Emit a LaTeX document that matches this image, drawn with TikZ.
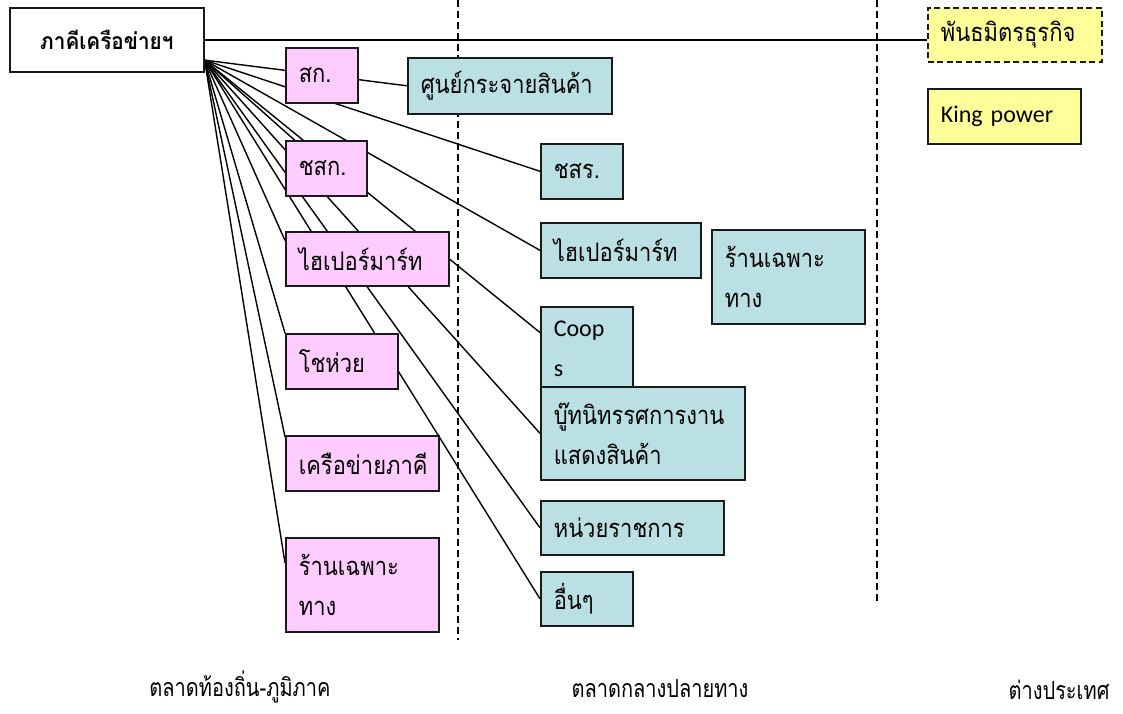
\documentclass[tikz,border=0pt]{standalone}
\usepackage{fontspec}
\newfontfamily\thai[Script=Thai,FakeStretch=0.86]{Loma}
\newfontfamily\thaib[Script=Thai,FakeStretch=0.9]{Loma}
\newfontfamily\thain[Script=Thai,FakeStretch=0.8]{Loma}
\newfontfamily\lat{Carlito}
\usetikzlibrary{calc,backgrounds}
\definecolor{pinkc}{HTML}{FFCCFF}
\definecolor{tealc}{HTML}{BBE0E3}
\definecolor{yelc}{HTML}{FFFF99}
\definecolor{edgec}{HTML}{1A1A1A}
\begin{document}
\begin{tikzpicture}[x=1pt,y=-1pt,
  bx/.style={draw=edgec, line width=1.6pt, anchor=north west, inner xsep=13pt, inner ysep=0pt, align=left, font=\thai\fontsize{25.5}{40}\selectfont},
  pk/.style={bx, fill=pinkc},
  tl/.style={bx, fill=tealc},
  yl/.style={bx, fill=yelc},
  conn/.style={line width=1.4pt, draw=black},
  divider/.style={line width=1.4pt, dash pattern=on 7pt off 4pt},
  market/.style={font=\thain\fontsize{25}{28}\selectfont, anchor=center}]
\useasboundingbox (0,0) rectangle (1123,713);

% hub
\node[bx, fill=white, align=center, minimum width=194pt, minimum height=64pt, inner xsep=0pt, font=\thaib\bfseries\fontsize{23}{26}\selectfont] (hub) at (9,7) {ภาคีเครือข่ายฯ};

% local market (pink)
\node[pk, text width=46pt, minimum height=55pt] (sk) at (285,47) {สก.};
\node[pk, text width=55pt, minimum height=55pt] (chsk) at (285,140) {ชสก.};
\node[pk, text width=137pt, minimum height=54pt] (hypP) at (285,231) {ไฮเปอร์มาร์ท};
\node[pk, text width=86pt, minimum height=55pt] (chw) at (285,333) {โชห่วย};
\node[pk, text width=127pt, minimum height=55pt] (kry) at (285,435) {เครือข่ายภาคี};
\node[pk, text width=127pt, minimum height=94pt] (rnP) at (285,537) {ร้านเฉพาะ\\ทาง};

% central market (teal)
\node[tl, text width=178pt, minimum height=56pt] (dc) at (407,57) {ศูนย์กระจายสินค้า};
\node[tl, text width=56pt, minimum height=55pt] (chsr) at (540,143) {ชสร.};
\node[tl, text width=134pt, minimum height=55pt] (hypT) at (540,222) {ไฮเปอร์มาร์ท};
\node[tl, text width=127pt, minimum height=94pt] (rnT) at (711,229) {ร้านเฉพาะ\\ทาง};
\node[tl, text width=66pt, minimum height=84pt, font=\lat\fontsize{24}{40}\selectfont] (coops) at (540,306) {Coop\\s};
\node[tl, text width=178pt, minimum height=93pt] (booth) at (540,386) {บู๊ทนิทรรศการงาน\\แสดงสินค้า};
\node[tl, text width=157pt, minimum height=54pt] (gov) at (540,500) {หน่วยราชการ};
\node[tl, text width=66pt, minimum height=54pt] (oth) at (540,571) {อื่นๆ};

% abroad (yellow)
\node[yl, text width=148pt, minimum height=54pt, dash pattern=on 6pt off 3.5pt] (ally) at (927,7) {พันธมิตรธุรกิจ};
\node[yl, text width=127pt, minimum height=55pt, font=\lat\fontsize{24}{30}\selectfont] (king) at (927,88) {King power};

% market labels
\node[market] (lblL) at (240,687) {ตลาดท้องถิ่น-ภูมิภาค};
\node[market] (lblC) at (660,689) {ตลาดกลางปลายทาง};
\node[market] (lblR) at (1059,690) {ต่างประเทศ};

\begin{pgfonlayer}{background}
  \draw[divider] (458,0) -- (458,640);
  \draw[divider] (877,0) -- (877,605);
  \coordinate (fan) at ($(hub.north east)!0.81!(hub.south east)$);
  \draw[conn] (hub.east) -- (hub.east -| ally.west);
  \draw[conn] (fan) -- (dc.west);
  \draw[conn] (fan) -- (chsr.west);
  \draw[conn] (fan) -- (hypT.west);
  \draw[conn] (fan) -- ($(coops.north west)!0.31!(coops.south west)$);
  \draw[conn] (fan) -- (booth.west);
  \draw[conn] (fan) -- (gov.west);
  \draw[conn] (fan) -- (oth.west);
  \draw[conn] (fan) -- (chsk.center);
  \draw[conn] (fan) -- ($(hypP.north west)!0.17!(hypP.south west)$);
  \draw[conn] (fan) -- (chw.north west);
  \draw[conn] (fan) -- ($(kry.north west)!0.03!(kry.south west)$);
  \draw[conn] (fan) -- ($(rnP.north west)!0.27!(rnP.south west)$);
\end{pgfonlayer}
\end{tikzpicture}
\end{document}
